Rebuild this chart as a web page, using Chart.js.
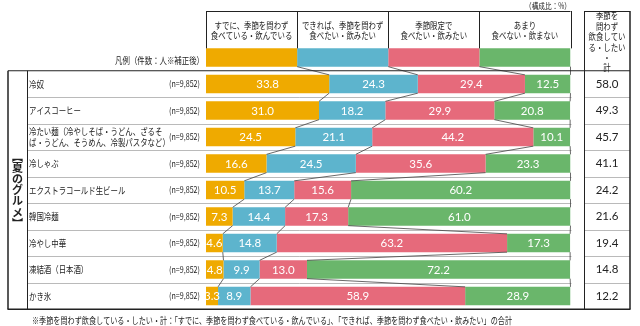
<!DOCTYPE html>
<html>
<head>
<meta charset="utf-8">
<script src="https://cdn.jsdelivr.net/npm/chart.js@4.4.1/dist/chart.umd.min.js"></script>
<style>
  html, body { margin: 0; padding: 0; background: #fff; }
</style>
</head>
<body>
<canvas id="myChart" width="640" height="326"></canvas>
<script>
// Food items (a string array means the label is written on two lines)
var foods = [
  '冷奴',
  'アイスコーヒー',
  ['冷たい麺（冷やしそば・うどん、ざるそ', 'ば・うどん、そうめん、冷製パスタなど）'],
  '冷しゃぶ',
  'エクストラコールド生ビール',
  '韓国冷麺',
  '冷やし中華',
  '凍結酒（日本酒）',
  'かき氷'
];
var sampleSizes = ['9,852', '9,852', '9,852', '9,852', '9,852', '9,852', '9,852', '9,852', '9,852'];

var seriesNames = [
  ['すでに、季節を問わず', '食べている・飲んでいる'],
  ['できれば、季節を問わず', '食べたい・飲みたい'],
  ['季節限定で', '食べたい・飲みたい'],
  ['あまり', '食べない・飲まない']
];
var seriesColors = ['#EFAA00', '#5DB4CD', '#E66A7B', '#6AB66B'];

var alreadyEat = [33.8, 31.0, 24.5, 16.6, 10.5, 7.3, 4.6, 4.8, 3.3];
var wantToEat = [24.3, 18.2, 21.1, 24.5, 13.7, 14.4, 14.8, 9.9, 8.9];
var seasonOnly = [29.4, 29.9, 44.2, 35.6, 15.6, 17.3, 63.2, 13.0, 58.9];
var rarelyEat = [12.5, 20.8, 10.1, 23.3, 60.2, 61.0, 17.3, 72.2, 28.9];
var totals = [58.0, 49.3, 45.7, 41.1, 24.2, 21.6, 19.4, 14.8, 12.2];

// the legend strip on top is drawn as one more row of equal parts
var legendShares = [25, 25, 25, 25];

var JP = '"Noto Sans CJK JP", "Noto Sans CJK SC", sans-serif';
var NUM = 'Lato, "Noto Sans", sans-serif';

function jpText(ctx, text, x, y, align, size, weight, squeeze) {
  ctx.font = (weight || 'normal') + ' ' + size + 'px ' + JP;
  ctx.textAlign = align;
  var w = ctx.measureText(text).width * (squeeze || 0.78);
  ctx.fillText(text, x, y, w);
}

function line(ctx, x1, y1, x2, y2) {
  ctx.beginPath();
  ctx.moveTo(x1, y1);
  ctx.lineTo(x2, y2);
  ctx.stroke();
}

var seriesData = [alreadyEat, wantToEat, seasonOnly, rarelyEat];
var datasets = seriesData.map(function (values, k) {
  return {
    label: seriesNames[k].join(''),
    data: [legendShares[k]].concat(values),
    backgroundColor: seriesColors[k],
    borderWidth: 0,
    barPercentage: 0.69,
    categoryPercentage: 1
  };
});

var tablePlugin = {
  id: 'table',
  beforeDraw: function (chart) {
    var ctx = chart.ctx;
    ctx.save();
    ctx.fillStyle = '#fff';
    ctx.fillRect(0, 0, chart.width, chart.height);
    ctx.restore();
  },
  afterDatasetsDraw: function (chart) {
    var ctx = chart.ctx;
    var xs = chart.scales.x;
    var area = chart.chartArea;
    var rowH = (area.bottom - area.top) / (foods.length + 1);
    var tableTop = area.top + rowH;
    var tableBottom = area.bottom;
    var colL = 206, colR = area.right;
    var totL = 584.5, totR = 630;

    ctx.save();
    ctx.textBaseline = 'middle';

    // row separators
    ctx.strokeStyle = '#a8a8a8';
    ctx.lineWidth = 0.8;
    for (var r = 1; r < foods.length; r++) {
      var y = Math.round(tableTop + r * rowH) + 0.5;
      line(ctx, 27, y, colR + 1, y);
      line(ctx, totL, y, totR, y);
    }

    // connector lines between bars of neighbouring rows
    ctx.strokeStyle = '#444';
    ctx.lineWidth = 0.8;
    var metas = [0, 1, 2, 3].map(function (k) { return chart.getDatasetMeta(k); });
    for (var i = 0; i < foods.length; i++) {
      var cumA = 0, cumB = 0;
      var barA = metas[0].data[i], barB = metas[0].data[i + 1];
      var yA = barA.y + barA.height / 2;
      var yB = barB.y - barB.height / 2;
      for (var k = 0; k < 4; k++) {
        cumA += chart.data.datasets[k].data[i];
        cumB += chart.data.datasets[k].data[i + 1];
        var xa = xs.getPixelForValue(Math.min(cumA, 100));
        var xb = xs.getPixelForValue(Math.min(cumB, 100));
        line(ctx, xa, yA, xb, yB);
      }
    }

    // frame lines
    ctx.strokeStyle = '#222';
    ctx.lineWidth = 1;
    line(ctx, 8, tableTop, totR, tableTop);
    line(ctx, 27.5, tableTop, 27.5, tableBottom);
    line(ctx, totL, 11, totL, tableBottom);
    line(ctx, totL, 11.5, totR, 11.5);
    ctx.lineWidth = 1.5;
    line(ctx, 8, tableTop, 8, tableBottom);
    line(ctx, 7.5, tableBottom, totR + 0.5, tableBottom);
    line(ctx, totR, 11, totR, tableBottom);

    // legend header boxes
    ctx.lineWidth = 1;
    var legendBar = metas[0].data[0];
    var legendTop = legendBar.y - legendBar.height / 2;
    line(ctx, colL, 11.5, colR, 11.5);
    for (var b = 0; b <= 4; b++) {
      var bx = Math.round(xs.getPixelForValue(b * 25)) + 0.5;
      line(ctx, bx, 11, bx, legendTop);
    }
    ctx.fillStyle = '#222';
    for (var s = 0; s < 4; s++) {
      var cx = xs.getPixelForValue(s * 25 + 12.5);
      jpText(ctx, seriesNames[s][0], cx, 25, 'center', 9.5);
      jpText(ctx, seriesNames[s][1], cx, 35.5, 'center', 9.5);
    }
    jpText(ctx, '凡例（件数：人※補正後）', 204, legendBar.y + 3, 'right', 9.5);
    jpText(ctx, '（構成比：%）', 571, 5.5, 'right', 8.5);

    // total column header
    var hdr = ['季節を', '問わず', '飲食してい', 'る・したい', '・', '計'];
    var hy = [15, 26, 36.5, 47, 57, 67];
    for (var h = 0; h < hdr.length; h++) {
      jpText(ctx, hdr[h], 607, hy[h], 'center', 9.5);
    }

    // group label written vertically
    var vert = ['︻', '夏', 'の', 'グ', 'ル', 'メ', '︼'];
    var vMid = (tableTop + tableBottom) / 2;
    for (var v = 0; v < vert.length; v++) {
      jpText(ctx, vert[v], 17.5, vMid + (v - 3) * 11.2, 'center', 11, 'bold', 1);
    }

    // row labels, sample sizes and totals
    for (var j = 0; j < foods.length; j++) {
      var rowY = metas[0].data[j + 1].y;
      ctx.fillStyle = '#222';
      if (Array.isArray(foods[j])) {
        jpText(ctx, foods[j][0], 29, rowY - 5.5, 'left', 9.5);
        jpText(ctx, foods[j][1], 29, rowY + 5, 'left', 9.5);
      } else {
        jpText(ctx, foods[j], 29, rowY, 'left', 9.5);
      }
      ctx.font = '8.5px ' + JP;
      ctx.textAlign = 'right';
      ctx.fillText('(n=' + sampleSizes[j] + ')', 200, rowY, 31);

      ctx.font = '11.5px ' + NUM;
      ctx.textAlign = 'center';
      ctx.fillText(totals[j].toFixed(1), 607, rowY);
    }

    // value labels inside the segments
    ctx.fillStyle = '#fff';
    ctx.font = '11.5px ' + NUM;
    ctx.textAlign = 'center';
    for (var d = 0; d < 4; d++) {
      metas[d].data.forEach(function (bar, idx) {
        if (idx === 0) return;
        var val = chart.data.datasets[d].data[idx];
        ctx.fillText(val.toFixed(1), (bar.x + bar.base) / 2, bar.y + 0.5);
      });
    }

    // footnote
    ctx.fillStyle = '#222';
    ctx.font = '9.5px ' + JP;
    ctx.textAlign = 'left';
    ctx.fillText('※季節を問わず飲食している・したい・計：「すでに、季節を問わず食べている・飲んでいる」、「できれば、季節を問わず食べたい・飲みたい」の合計', 32, 320.5, 480);

    ctx.restore();
  }
};

var chart = new Chart(document.getElementById('myChart'), {
  type: 'bar',
  data: {
    labels: [''].concat(foods.map(function (f) { return Array.isArray(f) ? f.join('') : f; })),
    datasets: datasets
  },
  options: {
    indexAxis: 'y',
    responsive: false,
    animation: false,
    events: [],
    layout: {
      padding: { left: 206, right: 69.5, top: 44.25, bottom: 16.75 }
    },
    scales: {
      x: { stacked: true, min: 0, max: 100, display: false },
      y: { stacked: true, display: false }
    },
    plugins: {
      legend: { display: false },
      tooltip: { enabled: false }
    }
  },
  plugins: [tablePlugin]
});
</script>
</body>
</html>
